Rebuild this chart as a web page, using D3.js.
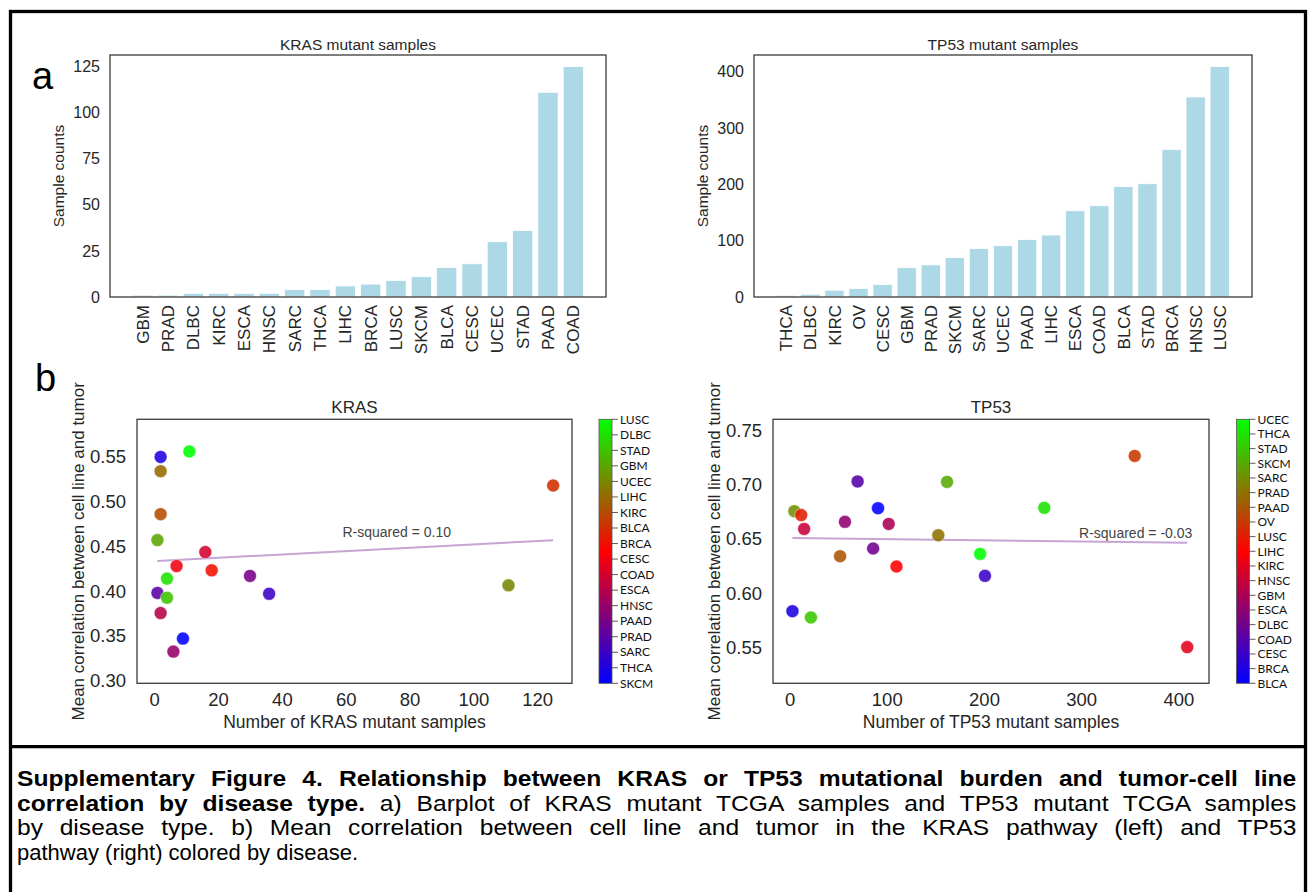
<!DOCTYPE html>
<html>
<head>
<meta charset="utf-8">
<title>Supplementary Figure 4</title>
<script src="https://d3js.org/d3.v7.min.js"></script>
<style>
  body { margin: 0; background: #fff; }
  text { font-family: "Liberation Sans", Arial, sans-serif; fill: #262626; }
  .frame { fill: none; stroke: #3a3a3a; stroke-width: 1.3px; }
  .cbar text { font-family: Lato, "Open Sans", sans-serif; font-size: 12px; fill: #111; }
  .caption text { fill: #000; font-size: 22px; }
</style>
</head>
<body>
<svg width="1313" height="892"></svg>
<script>
// ---- data ----
const krasDiseases = ["GBM", "PRAD", "DLBC", "KIRC", "ESCA", "HNSC", "SARC", "THCA", "LIHC",
                      "BRCA", "LUSC", "SKCM", "BLCA", "CESC", "UCEC", "STAD", "PAAD", "COAD"];
const krasCounts = [1, 1, 2, 2, 2, 2, 4, 4, 6, 7, 9, 11, 16, 18, 30, 36, 111, 125];
const krasCorr = [0.398, 0.457, 0.550, 0.3755, 0.486, 0.534, 0.3926, 0.414, 0.3324,
                  0.428, 0.347, 0.556, 0.4436, 0.4232, 0.417, 0.397, 0.4065, 0.518];
// colorbar labels as printed, top to bottom
const krasCbarLabels = ["LUSC", "DLBC", "STAD", "GBM", "UCEC", "LIHC", "KIRC", "BLCA", "BRCA",
                        "CESC", "COAD", "ESCA", "HNSC", "PAAD", "PRAD", "SARC", "THCA", "SKCM"];
const krasR = "R-squared = 0.10";

const tp53Diseases = ["THCA", "DLBC", "KIRC", "OV", "CESC", "GBM", "PRAD", "SKCM", "SARC", "UCEC",
                      "PAAD", "LIHC", "ESCA", "COAD", "BLCA", "STAD", "BRCA", "HNSC", "LUSC"];
const tp53Counts = [3, 5, 12, 15, 22, 52, 57, 70, 86, 91, 102, 110, 153, 162, 196, 201, 262, 355, 409];
const tp53Corr = [0.5834, 0.6754, 0.6718, 0.6591, 0.5776, 0.634, 0.6656, 0.7028, 0.6411, 0.6782,
                  0.6637, 0.6245, 0.6533, 0.7024, 0.6361, 0.6159, 0.6785, 0.7263, 0.5503];
const tp53CbarLabels = ["UCEC", "THCA", "STAD", "SKCM", "SARC", "PRAD", "PAAD", "OV", "LUSC", "LIHC",
                        "KIRC", "HNSC", "GBM", "ESCA", "DLBC", "COAD", "CESC", "BRCA", "BLCA"];
const tp53R = "R-squared = -0.03";

const krasBarTicks = [0, 25, 50, 75, 100, 125];
const tp53BarTicks = [0, 100, 200, 300, 400];
const krasXTicks = [0, 20, 40, 60, 80, 100, 120];
const krasYTicks = [0.30, 0.35, 0.40, 0.45, 0.50, 0.55];
const tp53XTicks = [0, 100, 200, 300, 400];
const tp53YTicks = [0.55, 0.60, 0.65, 0.70, 0.75];

const captionLines = [
  [{ t: "Supplementary Figure 4. Relationship between KRAS or TP53 mutational burden and tumor-cell line", b: true }],
  [{ t: "correlation by disease type.", b: true },
   { t: " a) Barplot of KRAS mutant TCGA samples and TP53 mutant TCGA samples", b: false }],
  [{ t: "by disease type. b) Mean correlation between cell line and tumor in the KRAS pathway (left) and TP53", b: false }],
  [{ t: "pathway (right) colored by disease.", b: false }]
];

const svg = d3.select("svg");

// matplotlib "brg" colormap
function brg(t) {
  return t < 0.5 ? d3.rgb(510 * t, 0, 255 * (1 - 2 * t))
                 : d3.rgb(255 * (2 - 2 * t), 255 * (2 * t - 1), 0);
}

// outer frame + divider
svg.append("rect").attr("x", 10.5).attr("y", 11.5).attr("width", 1295).attr("height", 900)
  .attr("fill", "none").attr("stroke", "#000").attr("stroke-width", 3.3);
svg.append("line").attr("x1", 10.5).attr("x2", 1305.5).attr("y1", 746.7).attr("y2", 746.7)
  .attr("stroke", "#000").attr("stroke-width", 3.3);

svg.append("text").attr("x", 32).attr("y", 89).attr("font-size", 38).style("fill", "#000").text("a");
svg.append("text").attr("x", 35).attr("y", 391).attr("font-size", 38).style("fill", "#000").text("b");

function drawBars(cfg) {
  const n = cfg.cats.length;
  const lo = -0.4, hi = n - 1 + 0.4, pad = 0.05 * (hi - lo);
  const x = d3.scaleLinear().domain([lo - pad, hi + pad]).range([cfg.left, cfg.right]);
  const y = d3.scaleLinear().domain([0, d3.max(cfg.vals) * 1.05]).range([cfg.bottom, cfg.top]);
  const g = svg.append("g");

  g.selectAll("rect.bar").data(cfg.vals).enter().append("rect")
    .attr("class", "bar")
    .attr("x", (d, i) => x(i - 0.4))
    .attr("width", x(0.8) - x(0))
    .attr("y", d => y(d))
    .attr("height", d => y(0) - y(d))
    .attr("fill", "#add8e6")
    .attr("stroke", "#fff").attr("stroke-width", 0.8);

  g.append("rect").attr("class", "frame")
    .attr("x", cfg.left).attr("y", cfg.top)
    .attr("width", cfg.right - cfg.left).attr("height", cfg.bottom - cfg.top);

  g.append("g").attr("transform", `translate(${cfg.left},0)`)
    .call(d3.axisLeft(y).tickValues(cfg.ticks).tickSize(0).tickPadding(10))
    .attr("font-size", 16)
    .call(a => a.select(".domain").remove());

  g.selectAll("text.cat").data(cfg.cats).enter().append("text")
    .attr("class", "cat")
    .attr("transform", (d, i) => `translate(${x(i)},${cfg.bottom + 8}) rotate(-90)`)
    .attr("text-anchor", "end").attr("dy", "0.36em")
    .attr("font-size", 17)
    .text(d => d);

  g.append("text").attr("x", (cfg.left + cfg.right) / 2).attr("y", 50)
    .attr("text-anchor", "middle").attr("font-size", 15.5).text(cfg.title);

  g.append("text")
    .attr("transform", `translate(${cfg.left - 46},${(cfg.top + cfg.bottom) / 2}) rotate(-90)`)
    .attr("text-anchor", "middle").attr("font-size", 15.5).text("Sample counts");
}

function drawScatter(cfg) {
  const x = d3.scaleLinear().domain(cfg.xDomain).range([cfg.left, cfg.right]);
  const y = d3.scaleLinear().domain(cfg.yDomain).range([cfg.bottom, cfg.top]);
  const g = svg.append("g");
  const pts = cfg.diseases.map((d, i) => ({ d, x: cfg.counts[i], y: cfg.corr[i] }));

  // least-squares fit
  const mx = d3.mean(pts, p => p.x), my = d3.mean(pts, p => p.y);
  const slope = d3.sum(pts, p => (p.x - mx) * (p.y - my)) / d3.sum(pts, p => (p.x - mx) ** 2);
  const [x0, x1] = d3.extent(pts, p => p.x);
  const fit = v => my + slope * (v - mx);
  g.append("line")
    .attr("x1", x(x0)).attr("y1", y(fit(x0)))
    .attr("x2", x(x1)).attr("y2", y(fit(x1)))
    .attr("stroke", "#c6a4d4").attr("stroke-width", 2);
  g.append("text").attr("x", x(cfg.rPos[0])).attr("y", y(cfg.rPos[1]))
    .attr("text-anchor", "middle").attr("font-size", 14).style("fill", "#444").text(cfg.rText);

  const nC = cfg.cbarLabels.length;
  g.selectAll("circle").data(pts).enter().append("circle")
    .attr("cx", p => x(p.x)).attr("cy", p => y(p.y)).attr("r", 6.5)
    .attr("fill", p => brg(cfg.cbarLabels.indexOf(p.d) / (nC - 1)))
    .attr("fill-opacity", 0.88)
    .attr("stroke", "#fff").attr("stroke-width", 0.5);

  g.append("rect").attr("class", "frame")
    .attr("x", cfg.left).attr("y", cfg.top)
    .attr("width", cfg.right - cfg.left).attr("height", cfg.bottom - cfg.top);

  g.append("g").attr("transform", `translate(${cfg.left},0)`)
    .call(d3.axisLeft(y).tickValues(cfg.yTicks).tickSize(0).tickPadding(11).tickFormat(d3.format(".2f")))
    .attr("font-size", 18.5)
    .call(a => a.select(".domain").remove());
  g.append("g").attr("transform", `translate(0,${cfg.bottom})`)
    .call(d3.axisBottom(x).tickValues(cfg.xTicks).tickSize(0).tickPadding(10))
    .attr("font-size", 18.5)
    .call(a => a.select(".domain").remove());

  g.append("text").attr("x", (cfg.left + cfg.right) / 2).attr("y", 413)
    .attr("text-anchor", "middle").attr("font-size", 17).text(cfg.title);
  g.append("text").attr("x", (cfg.left + cfg.right) / 2).attr("y", 728)
    .attr("text-anchor", "middle").attr("font-size", 17.5).text(cfg.xLabel);
  g.append("text")
    .attr("transform", `translate(${cfg.left - 53},${(cfg.top + cfg.bottom) / 2}) rotate(-90)`)
    .attr("text-anchor", "middle").attr("font-size", 17)
    .text("Mean correlation between cell line and tumor");

  // colorbar
  const cb = g.append("g").attr("class", "cbar");
  const gid = "grad" + cfg.title;
  const grad = svg.append("defs").append("linearGradient").attr("id", gid)
    .attr("x1", 0).attr("y1", 1).attr("x2", 0).attr("y2", 0);
  [0, 0.5, 1].forEach(t => grad.append("stop").attr("offset", t).attr("stop-color", brg(t)));
  cb.append("rect").attr("x", cfg.cbarX).attr("y", cfg.top)
    .attr("width", 13).attr("height", cfg.bottom - cfg.top)
    .attr("fill", `url(#${gid})`).attr("stroke", "#555").attr("stroke-width", 0.8);
  const cy = d3.scalePoint().domain(cfg.cbarLabels).range([cfg.top, cfg.bottom]);
  cb.selectAll("line").data(cfg.cbarLabels).enter().append("line")
    .attr("x1", cfg.cbarX + 13).attr("x2", cfg.cbarX + 19)
    .attr("y1", d => cy(d)).attr("y2", d => cy(d))
    .attr("stroke", "#333").attr("stroke-width", 0.8);
  cb.selectAll("text").data(cfg.cbarLabels).enter().append("text")
    .attr("x", cfg.cbarX + 21).attr("y", d => cy(d)).attr("dy", "0.35em")
    .text(d => d);
}

drawBars({ cats: krasDiseases, vals: krasCounts, ticks: krasBarTicks, title: "KRAS mutant samples",
           left: 110, right: 606, top: 55, bottom: 297 });
drawBars({ cats: tp53Diseases, vals: tp53Counts, ticks: tp53BarTicks, title: "TP53 mutant samples",
           left: 754, right: 1252, top: 55, bottom: 297 });

drawScatter({ diseases: krasDiseases, counts: krasCounts, corr: krasCorr, cbarLabels: krasCbarLabels,
              title: "KRAS", xLabel: "Number of KRAS mutant samples", rText: krasR, rPos: [76, 0.4607],
              xDomain: [-5.4, 130.9], yDomain: [0.297, 0.592], xTicks: krasXTicks, yTicks: krasYTicks,
              left: 137, right: 572, top: 419.3, bottom: 683.3, cbarX: 599 });
drawScatter({ diseases: tp53Diseases, counts: tp53Counts, corr: tp53Corr, cbarLabels: tp53CbarLabels,
              title: "TP53", xLabel: "Number of TP53 mutant samples", rText: tp53R, rPos: [356, 0.6506],
              xDomain: [-17, 431.4], yDomain: [0.517, 0.760], xTicks: tp53XTicks, yTicks: tp53YTicks,
              left: 773, right: 1209, top: 419.3, bottom: 683.3, cbarX: 1236.5 });

// caption: justified lines (glyphs widened a little, rest taken up by word spacing)
const cap = svg.append("g").attr("class", "caption");
const capLeft = 17, capWidth = 1280;
captionLines.forEach((parts, i) => {
  const t = cap.append("text").attr("x", capLeft).attr("y", 786 + i * 24.6)
    .attr("xml:space", "preserve");
  parts.forEach(p => t.append("tspan").attr("font-weight", p.b ? "bold" : "normal").text(p.t));
  if (i < captionLines.length - 1) {
    const natural = t.node().getComputedTextLength();
    const spaces = parts.map(p => p.t).join("").split(" ").length - 1;
    const stretch = Math.min(1.12, capWidth / natural);
    t.attr("word-spacing", (capWidth / stretch - natural) / spaces)
     .attr("transform", `translate(${capLeft},0) scale(${stretch},1) translate(${-capLeft},0)`);
  }
});
</script>
</body>
</html>
